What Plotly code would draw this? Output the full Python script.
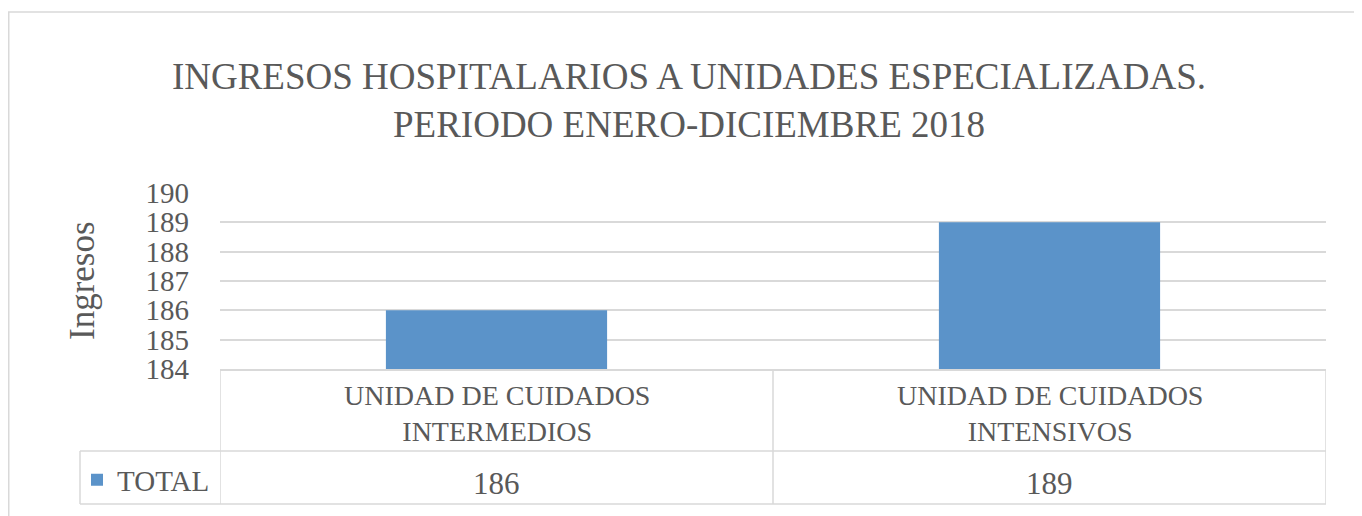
import plotly.graph_objects as go

categories = ["UNIDAD DE CUIDADOS INTERMEDIOS", "UNIDAD DE CUIDADOS INTENSIVOS"]
category_labels = ["UNIDAD DE CUIDADOS<br>INTERMEDIOS", "UNIDAD DE CUIDADOS<br>INTENSIVOS"]
series_name = "TOTAL"
values = [186, 189]
y_ticks = [184, 185, 186, 187, 188, 189, 190]

FONT = "Liberation Serif"
TXT = "#595959"
GRID = "#D9D9D9"
BAR = "#5B93C9"

W, H = 1362, 516
OFF = 8  # page body margin offset
# plot area in reference (screen) pixels: x 220..1326, y 193..369
ML, MT = 220 - OFF, 193 - OFF
MR = W - (1326 - OFF)
MB = H - (369 - OFF)
PW, PH = W - ML - MR, H - MT - MB


def px_x(px):
    return (px - OFF - ML) / PW


def px_y(py):
    return (H - MB - (py - OFF)) / PH


fig = go.Figure()
fig.add_trace(go.Bar(x=categories, y=values, name=series_name,
                     marker=dict(color=BAR, line=dict(width=0)),
                     showlegend=True))

fig.update_layout(
    width=W, height=H,
    margin=dict(l=ML, r=MR, t=MT, b=MB, pad=0),
    paper_bgcolor="white", plot_bgcolor="white",
    font=dict(family=FONT, color=TXT),
    bargap=0.6,
    title=dict(text="INGRESOS HOSPITALARIOS A UNIDADES ESPECIALIZADAS.<br>PERIODO ENERO-DICIEMBRE 2018",
               x=0.5, xanchor="center", xref="container",
               y=1 - (89 - OFF) / H, yanchor="middle", yref="container",
               font=dict(family=FONT, size=37, color=TXT)),
    xaxis=dict(showticklabels=False, showgrid=False, showline=True,
               linecolor=GRID, linewidth=1.5, ticks="", zeroline=False,
               range=[-0.5, 1.5]),
    yaxis=dict(range=[184, 190], tickvals=y_ticks, showgrid=True,
               gridcolor=GRID, gridwidth=1.5, zeroline=False, showline=False,
               ticks="", ticklabelstandoff=30,
               tickfont=dict(family=FONT, size=29, color=TXT)),
    legend=dict(x=px_x(77), y=px_y(480), xanchor="left", yanchor="middle",
                xref="paper", yref="paper", bgcolor="rgba(0,0,0,0)",
                font=dict(family=FONT, size=29, color=TXT),
                itemwidth=30, tracegroupgap=0),
)

# Axis title
fig.add_annotation(text="Ingresos", x=px_x(82), y=px_y(281), xref="paper", yref="paper",
                   textangle=-90, showarrow=False, xanchor="center", yanchor="middle",
                   font=dict(family=FONT, size=35, color=TXT))

# Category labels and values in data table
for cat, lab, v in zip(categories, category_labels, values):
    fig.add_annotation(text=lab, x=cat, y=px_y(413), xref="x", yref="paper",
                       showarrow=False, xanchor="center", yanchor="middle",
                       font=dict(family=FONT, size=28, color=TXT))
    fig.add_annotation(text=str(v), x=cat, y=px_y(483), xref="x", yref="paper",
                       showarrow=False, xanchor="center", yanchor="middle",
                       font=dict(family=FONT, size=31, color=TXT))

line = dict(color=GRID, width=1.5)
# Outer chart border
fig.add_shape(type="rect", xref="paper", yref="paper", x0=px_x(8.75), x1=px_x(1400),
              y0=px_y(12), y1=px_y(560), line=line, fillcolor="rgba(0,0,0,0)", layer="below")
# Table horizontal lines
for py in (451, 504):
    fig.add_shape(type="line", xref="paper", yref="paper", x0=px_x(80), x1=1,
                  y0=px_y(py), y1=px_y(py), line=line)
# Legend cell left border
fig.add_shape(type="line", xref="paper", yref="paper", x0=px_x(80), x1=px_x(80),
              y0=px_y(451), y1=px_y(504), line=line)
# Category boundaries
n = len(categories)
for i in range(n + 1):
    fig.add_shape(type="line", xref="x", yref="paper", x0=i - 0.5, x1=i - 0.5,
                  y0=0, y1=px_y(504), line=line)

fig.write_html("out.html")
